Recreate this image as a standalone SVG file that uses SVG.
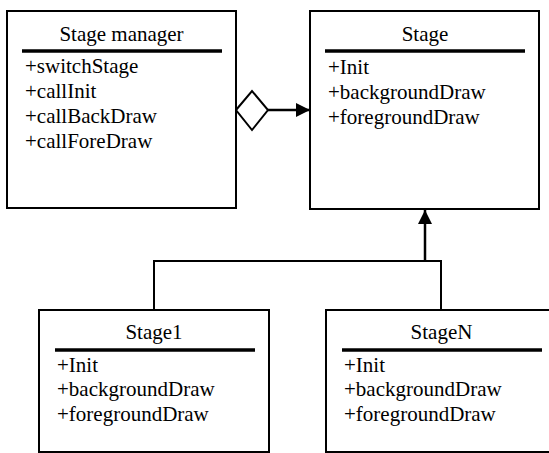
<svg xmlns="http://www.w3.org/2000/svg" width="549" height="453" viewBox="0 0 549 453">
<style>
.box{fill:#fff;stroke:#000;stroke-width:2}
.sep{stroke:#000;stroke-width:3.5}
text{font-family:"Liberation Serif","Times New Roman",serif;font-size:21px;fill:#000}
.t{text-anchor:middle}
.thin{fill:none;stroke:#000;stroke-width:2}
.thick{fill:none;stroke:#000;stroke-width:2.5}
</style>
<defs>
<marker id="ah" viewBox="0 0 14 14" refX="14" refY="7" markerWidth="14" markerHeight="14" markerUnits="userSpaceOnUse" orient="auto">
<path d="M0,0 L14,7 L0,14 Z" fill="#000"/>
</marker>
</defs>
<rect width="549" height="453" fill="#fff"/>
<g id="connectors">
<polygon points="236,110 252,91 268,110 252,130" fill="#fff" stroke="#000" stroke-width="2"/>
<line x1="268" y1="110" x2="310" y2="110" class="thick" marker-end="url(#ah)"/>
<polyline points="154,310 154,261 441,261 441,310" class="thin"/>
<line x1="425" y1="261" x2="425" y2="210" class="thick" marker-end="url(#ah)"/>
</g>
<g id="stage-manager">
<rect x="7" y="11" width="229" height="197" class="box"/>
<text x="121.5" y="41" class="t">Stage manager</text>
<line x1="22" y1="51" x2="222" y2="51" class="sep"/>
<text x="25" y="73">+switchStage</text>
<text x="25" y="98">+callInit</text>
<text x="25" y="123">+callBackDraw</text>
<text x="25" y="148">+callForeDraw</text>
</g>
<g id="stage">
<rect x="310" y="11" width="229" height="198" class="box"/>
<text x="425" y="41" class="t">Stage</text>
<line x1="325" y1="51" x2="525" y2="51" class="sep"/>
<text x="328" y="74">+Init</text>
<text x="328" y="98.5">+backgroundDraw</text>
<text x="328" y="123.5">+foregroundDraw</text>
</g>
<g id="stage1">
<rect x="39" y="310" width="230" height="142" class="box"/>
<text x="154" y="339" class="t">Stage1</text>
<line x1="55" y1="350" x2="255" y2="350" class="sep"/>
<text x="57" y="372">+Init</text>
<text x="57" y="396">+backgroundDraw</text>
<text x="57" y="420.5">+foregroundDraw</text>
</g>
<g id="stageN">
<rect x="326" y="310" width="232" height="142" class="box"/>
<text x="441.5" y="339" class="t">StageN</text>
<line x1="342" y1="350" x2="542" y2="350" class="sep"/>
<text x="344" y="372">+Init</text>
<text x="344" y="396">+backgroundDraw</text>
<text x="344" y="420.5">+foregroundDraw</text>
</g>
</svg>
